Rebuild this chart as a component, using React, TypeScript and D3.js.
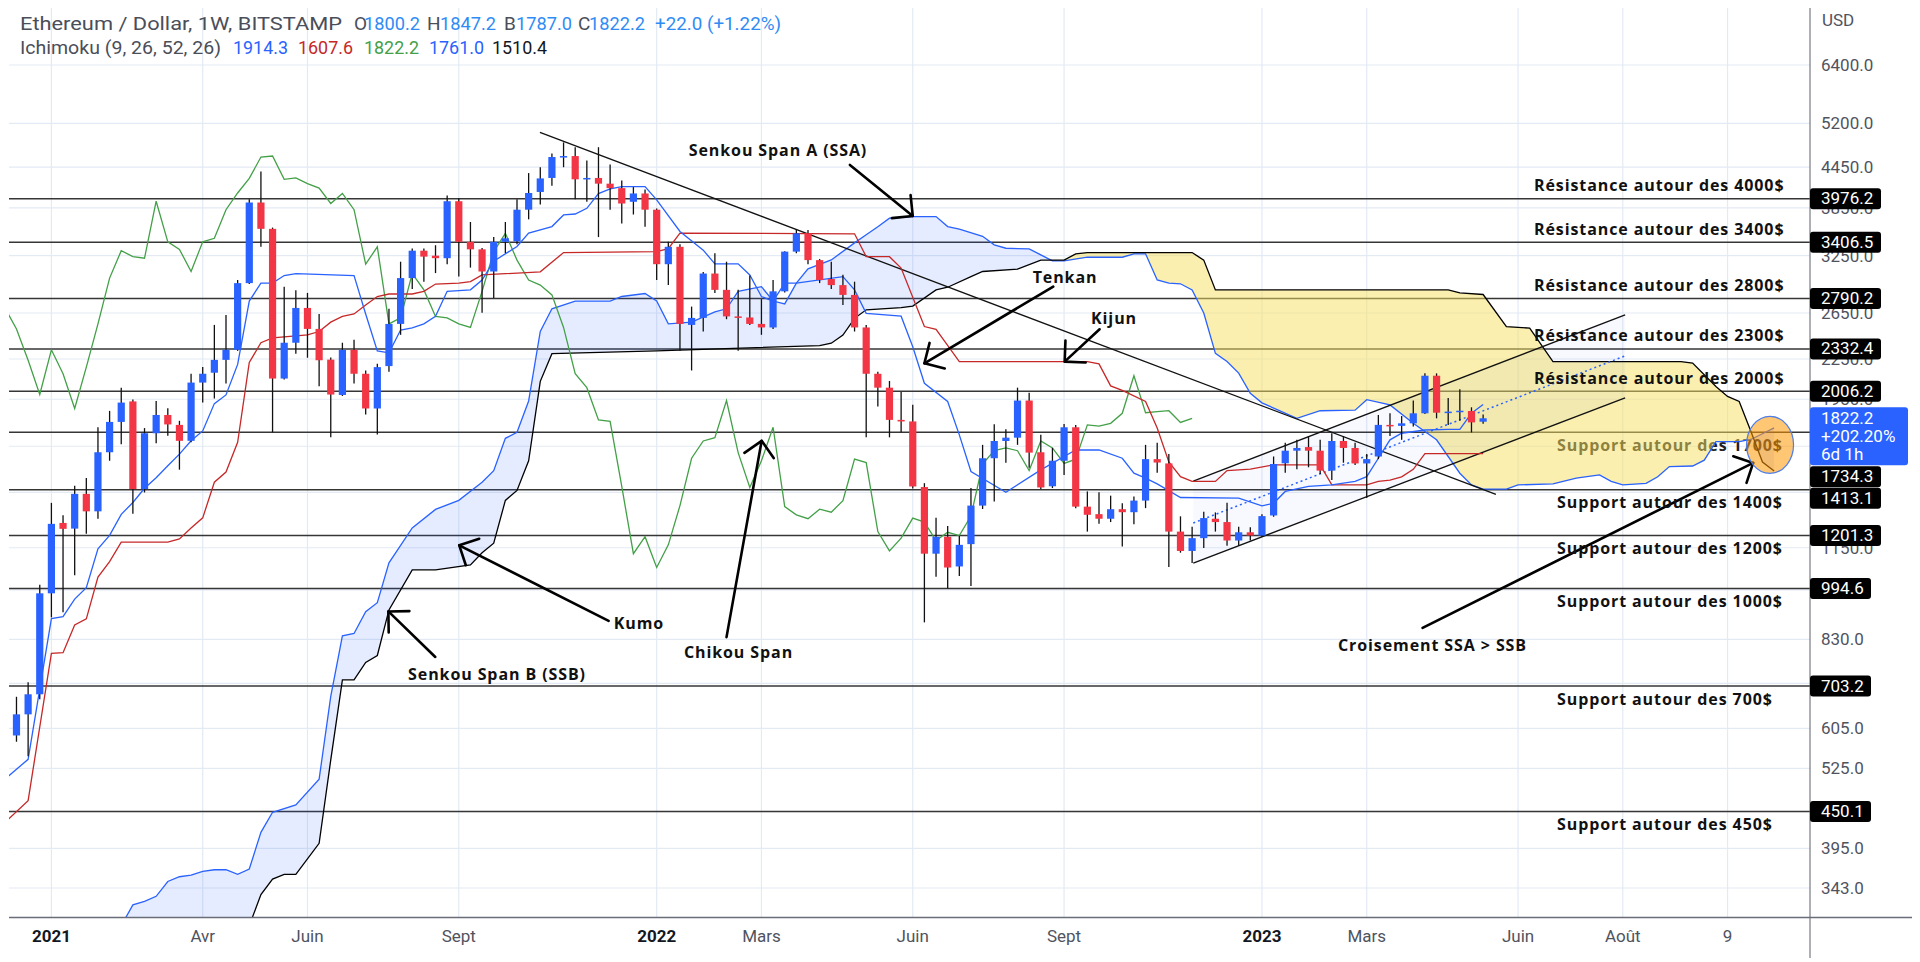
import React from "react";
import * as d3 from "d3";

const W = 1920;
const H = 962;

// ---- Weekly candles, index 0 = week of 2020-12-07, last = week of 2023-05-15 ----
const opens = [600,590,636,683,978,1256,1231,1393,1309,1615,
1799,1935,1417,1728,1844,1780,1682,2069,2143,2243,
2325,2947,3925,3574,2099,2384,2698,2504,2245,1980,
2325,2135,1887,2194,2549,3000,3307,3249,3220,3943,
3413,3323,3071,3413,3419,3826,4075,4283,4614,4630,
4262,4283,4197,4131,3935,4053,3826,3152,3353,2540,
2604,3049,2877,2618,2608,2549,2517,2862,3296,3518,
3198,2990,2926,2826,2517,2135,2032,1812,1802,1427,
1126,1196,1076,1165,1336,1581,1681,1701,1941,1615,
1431,1567,1765,1331,1296,1275,1319,1305,1360,1576,
1552,1218,1137,1190,1275,1260,1180,1215,1201,1290,
1553,1624,1645,1624,1513,1681,1640,1552,1591,1780,
1774,1790,1855,2120,1859,1866,1870,1800.2];
const highs = [610,677,713,1008,1349,1291,1434,1474,1765,1871,
2032,1949,1760,1938,1889,1806,2135,2186,2540,2632,
2980,3970,4381,3590,2910,2873,2846,2641,2262,2384,
2410,2160,2213,2690,3180,3334,3334,3372,4024,3984,
3662,3340,3471,3662,3970,4358,4450,4672,4860,4778,
4557,4778,4491,4244,4146,4110,3841,3413,3383,2711,
3065,3277,3180,2877,3027,2784,2980,3300,3570,3558,
3210,3180,3037,2962,2540,2150,2081,2000,1913,1447,
1279,1243,1200,1422,1658,1784,1753,2032,1996,1718,
1640,1786,1780,1405,1401,1384,1347,1380,1658,1671,
1605,1286,1239,1307,1304,1350,1239,1237,1295,1591,
1671,1688,1708,1688,1728,1711,1671,1605,1844,1855,
1837,1941,2138,2138,1958,2021,1895,1847.2];
const lows = [575,577,548,671,898,914,1043,1209,1275,1567,
1661,1298,1400,1668,1713,1518,1673,1927,1955,2062,
2316,2937,3353,1734,2092,2293,2260,2043,1703,1973,
2062,1847,1721,2151,2452,2885,2962,3054,3152,3016,
3114,2651,2795,3279,3383,3697,3897,4166,4450,3970,
3935,3471,3826,3642,3761,3600,2980,2926,2316,2160,
2481,2846,2592,2316,2540,2452,2504,2850,3277,3152,
2947,2885,2727,2481,1703,1901,1703,1734,1420,882,
1037,996,1040,1004,1320,1355,1556,1658,1528,1417,
1422,1490,1324,1218,1253,1260,1155,1250,1324,1502,
1074,1130,1089,1149,1218,1158,1158,1180,1195,1284,
1502,1520,1531,1495,1463,1556,1544,1372,1576,1711,
1688,1770,1851,1822,1780,1807,1733,1787.0];
const closes = [588,636,683,978,1252,1230,1393,1309,1615,1799,
1927,1417,1728,1844,1783,1682,2069,2135,2243,2325,
2947,3925,3574,2099,2384,2698,2504,2240,1983,2325,
2135,1887,2186,2549,3000,3307,3238,3220,3943,3413,
3323,3071,3413,3456,3826,4060,4276,4614,4630,4262,
4283,4197,4131,3911,4053,3826,3152,3353,2549,2604,
3049,2877,2618,2604,2549,2517,2862,3296,3518,3198,
2980,2926,2826,2517,2135,2032,1812,1802,1430,1126,
1196,1072,1162,1336,1581,1681,1701,1941,1613,1425,
1567,1765,1331,1293,1275,1319,1305,1360,1576,1557,
1218,1137,1190,1278,1260,1180,1215,1201,1287,1549,
1624,1640,1624,1513,1681,1640,1552,1576,1780,1772,
1790,1855,2120,1859,1866,1872,1796,1822.2];

// ---- Ichimoku lines: [week index, price] ----
const tenkan: [number, number][] = [[0,505],[2,542],[4,894],[5,900],[6,958],[7,998],[8,1146],[9,1202],[10,1295],[11,1351],[12,1421],[13,1475],[14,1539],[15,1604],[16,1682],[17,1742],[18,1920],[19,1980],[20,2207],[21,2765],[22,2947],[23,2947],[24,3027],[25,3049],[30,3027],[31,2641],[32,2316],[33,2300],[34,2494],[35,2513],[36,2549],[37,2618],[38,2862],[40,2877],[41,2980],[42,3186],[44,3357],[45,3520],[47,3603],[48,3755],[49,3768],[50,3845],[51,4052],[52,4121],[53,4154],[55,4154],[56,3961],[58,3541],[60,3313],[61,3156],[63,3156],[64,3034],[65,2809],[66,2764],[67,2947],[68,2947],[72,3016],[73,2877],[74,2647],[77,2620],[78,2350],[79,2064],[81,1935],[82,1718],[83,1508],[86,1401],[89,1517],[91,1591],[92,1628],[94,1628],[96,1581],[97,1499],[98,1473],[99,1443],[101,1375],[106,1372],[108,1335],[109,1347],[110,1405],[112,1430],[114,1438],[116,1456],[117,1481],[118,1581],[119,1688],[120,1728],[122,1748],[124,1752],[125,1752],[126,1855],[127,1914.3]];
const kijun: [number, number][] = [[0,433],[2,468],[4,790],[5,792],[6,874],[7,893],[8,1036],[9,1095],[10,1173],[14,1173],[15,1187],[16,1234],[17,1279],[18,1452],[19,1505],[20,1673],[21,2222],[22,2384],[23,2425],[26,2452],[27,2481],[28,2565],[29,2618],[30,2641],[31,2727],[32,2810],[33,2835],[35,2835],[36,2862],[37,2937],[39,2947],[40,2962],[41,3034],[46,3068],[48,3285],[56,3296],[57,3330],[58,3520],[73,3512],[74,3237],[76,3237],[77,3109],[79,2525],[80,2500],[82,2229],[93,2229],[94,2211],[95,2045],[96,2013],[98,1935],[99,1760],[100,1560],[101,1481],[102,1456],[104,1456],[105,1513],[107,1521],[109,1544],[113,1544],[114,1438],[117,1438],[118,1456],[119,1463],[120,1480],[121,1520],[122,1607],[127,1607.6]];
const senkouA: [number, number][] = [[10,300],[11,323],[12,327],[13,333],[14,351],[15,357],[16,359],[17,364],[18,366],[19,366],[20,360],[21,367],[22,418],[23,449],[25,461],[27,505],[28,678],[29,841],[30,848],[31,916],[32,946],[33,1090],[35,1234],[37,1318],[39,1361],[41,1452],[42,1513],[43,1697],[44,1734],[45,1938],[46,2481],[47,2690],[49,2765],[52,2765],[53,2810],[55,2840],[56,2765],[57,2550],[59,2565],[61,2661],[62,2690],[63,2862],[65,2910],[66,2765],[67,2737],[68,2947],[69,3100],[71,3200],[73,3400],[74,3500],[75,3600],[76,3712],[78,3734],[80,3734],[81,3603],[82,3570],[84,3480],[85,3376],[86,3336],[88,3328],[89,3258],[90,3190],[91,3190],[93,3231],[96,3231],[97,3270],[98,3270],[99,2980],[100,2947],[101,2940],[102,2877],[103,2650],[104,2296],[105,2230],[106,2140],[107,1992],[108,1925],[111,1822],[113,1872],[116,1876],[117,1947],[119,1911],[121,1790],[123,1688],[125,1499],[126,1438],[127,1417],[129,1417],[130,1438],[133,1443],[135,1473],[137,1490],[138,1456],[139,1438],[141,1446],[142,1480],[143,1535],[145,1538],[146,1570],[147,1677],[149,1677],[150,1690],[151,1725],[152,1761.0]];
const senkouB: [number, number][] = [[21,300],[22,335],[23,354],[24,360],[25,360],[27,402],[28,541],[29,719],[30,719],[31,765],[32,784],[33,922],[35,1063],[37,1063],[40,1082],[41,1130],[42,1169],[43,1361],[44,1410],[45,1567],[46,2078],[47,2293],[56,2316],[70,2360],[71,2380],[72,2450],[73,2600],[74,2680],[77,2700],[78,2716],[80,2877],[81,2904],[83,3016],[84,3071],[87,3097],[89,3198],[91,3198],[92,3270],[93,3285],[102,3285],[103,3198],[104,2877],[124,2877],[125,2846],[127,2830],[129,2525],[131,2511],[133,2229],[144,2229],[145,2217],[147,2040],[148,1970],[149,1935],[150,1740],[151,1560],[152,1510.4]];
const chikouShift = 25;

// ---- Horizontal levels ----
const levels = [3976.2, 3406.5, 2790.2, 2332.4, 2006.2, 1734.3, 1413.1, 1201.3, 994.6, 703.2, 450.1];
const levelTexts = ["Résistance autour des 4000$","Résistance autour des 3400$","Résistance autour des 2800$","Résistance autour des 2300$","Résistance autour des 2000$","Support autour des 1700$","Support autour des 1400$","Support autour des 1200$","Support autour des 1000$","Support autour des 700$","Support autour des 450$"];

// ---- Axes ----
const gridTicks = [6400, 5200, 4450, 3850, 3250, 2650, 2250, 1950, 1650, 1400, 1150, 990, 830, 710, 605, 525, 450, 395, 343];
const yTickLabels = [6400, 5200, 4450, 3850, 3250, 2650, 2250, 1950, 1150, 830, 605, 525, 395, 343];
const xTickLabels = ["2021","Avr","Juin","Sept","2022","Mars","Juin","Sept","2023","Mars","Juin","Août","9"];
const xTickWeeks = [4,17,26,39,56,65,78,91,108,117,130,139,148];
const yearLabels = ["2021","2022","2023"];

// ---- Drawings ----
const trendFrom: [number, number][] = [[45.97,5036],[102.1,1458],[102.1,1089]];
const trendTo: [number, number][] = [[128.1,1390],[139.2,2632],[139.2,1960]];
const midFrom: [number, number] = [102.1,1256];
const midTo: [number, number] = [139.2,2275];
const arrowFrom: [number, number][] = [[72.6,4486],[90.07,2910],[94.05,2501],[51.87,887],[36.98,780],[62.0,837],[121.8,865]];
const arrowTo: [number, number][] = [[78.0,3742],[79.0,2216],[91.05,2229],[39.04,1160],[32.95,917],[65.02,1682],[150.2,1555]];
const noteTexts = ["Senkou Span A (SSA)","Tenkan","Kijun","Kumo","Chikou Span","Senkou Span B (SSB)","Croisement SSA > SSB"];
const noteAt: [number, number][] = [[66.42,4719],[91.08,3005],[95.29,2595],[54.47,879],[63.03,793],[42.28,734],[122.65,813]];
const circleAt: [number, number] = [151.65,1658];

// ---- Legend ----
const lastPrice = 1822.2;
const lastChange = "+202.20%";
const countdown = "6d 1h";
const legendTitle = "Ethereum / Dollar, 1W, BITSTAMP";
const legendKeys = ["O","H","B","C"];
const legendVals = ["1800.2","1847.2","1787.0","1822.2"];
const legendChange = "+22.0 (+1.22%)";
const ichimokuTitle = "Ichimoku (9, 26, 52, 26)";
const ichimokuValues = ["1914.3","1607.6","1822.2","1761.0","1510.4"];

const PL = 9, PR = 1810, PT = 8, PB = 917;
const UP = "#2962ff", DOWN = "#f23645";
const AX_FONT = "Roboto, 'Liberation Sans', Arial, sans-serif";
const NOTE_FONT = "'Open Sans', 'DejaVu Sans', sans-serif";

export default function App() {
  const x = d3.scaleLinear().domain([0, 127]).range([4.84, 4.84 + 11.64 * 127]);
  const y = d3.scaleLog().domain([343, 6400]).range([888, 65]);
  const line = d3.line<[number, number]>().x((d) => x(d[0])).y((d) => y(d[1]));

  const pt = (d: [number, number]) => [x(d[0]), y(d[1])] as [number, number];
  const poly = (pts: [number, number][]) => "M" + pts.map((p) => p[0].toFixed(2) + "," + p[1].toFixed(2)).join("L") + "Z";

  const aPts = senkouA.map(pt);
  const bPts = senkouB.map(pt);
  const cloudPoly = poly([...aPts, ...bPts.slice().reverse()]);
  const bFirst = bPts[0], bLast = bPts[bPts.length - 1];
  const aboveB = poly([[-200, -200], [-200, bFirst[1]], ...bPts, [2200, bLast[1]], [2200, -200]]);
  const belowB = poly([[-200, 2000], [-200, bFirst[1]], ...bPts, [2200, bLast[1]], [2200, 2000]]);

  const chikou: [number, number][] = closes.map((c, i) => [i - chikouShift, c]);
  const channelPoly = poly([pt(trendFrom[1]), pt(trendTo[1]), pt(trendTo[2]), pt(trendFrom[2])]);

  // right price labels with collision
  const blueTop = y(lastPrice) - 11;
  const blueBottom = blueTop + 58;
  const boxes = levels.map((p) => ({ p, cy: y(p) })).sort((a, b) => a.cy - b.cy);
  let prevBottom = -1e9;
  const placed = boxes.map((b) => {
    let top = b.cy - 10.5;
    if (top < prevBottom + 0.5) top = prevBottom + 0.5;
    if (top < blueBottom && top + 21 > blueTop) top = blueBottom + 1;
    prevBottom = top + 21;
    return { ...b, top };
  });

  // legend layout (x positions and widths, px)
  const legendKeyX = [354, 427, 504, 578];
  const legendValX = [364, 440, 516, 589];
  const ichiX = [233, 298, 364, 429, 492];
  const ichiColors = ["#2962ff", "#c62828", "#43a047", "#2962ff", "#131722"];

  const arrowHead = (f: [number, number], t: [number, number]) => {
    const [fx, fy] = pt(f);
    const [tx, ty] = pt(t);
    const ang = Math.atan2(fy - ty, fx - tx);
    const L = 21;
    const a1 = ang + Math.PI / 4, a2 = ang - Math.PI / 4;
    return `M${tx + L * Math.cos(a1)},${ty + L * Math.sin(a1)}L${tx},${ty}L${tx + L * Math.cos(a2)},${ty + L * Math.sin(a2)}`;
  };

  return (
    <div style={{ width: W, height: H, overflow: "hidden", background: "#fff" }}>
      <style>{`html,body{margin:0;padding:0;overflow:hidden;background:#fff}`}</style>
      <svg width={W} height={H} viewBox={`0 0 ${W} ${H}`} style={{ display: "block" }}>
        <defs>
          <clipPath id="plot"><rect x={PL} y={PT} width={PR - PL} height={PB - PT} /></clipPath>
          <clipPath id="aboveB"><path d={aboveB} /></clipPath>
          <clipPath id="belowB"><path d={belowB} /></clipPath>
        </defs>
        <rect x={0} y={0} width={W} height={H} fill="#fff" />

        {/* grid */}
        <g stroke="#e3eaf4" strokeWidth={1.2}>
          {gridTicks.map((t) => (
            <line key={"gy" + t} x1={PL} x2={PR} y1={y(t)} y2={y(t)} />
          ))}
          {xTickWeeks.map((k, i) => (
            <line key={"gx" + i} x1={x(k)} x2={x(k)} y1={PT} y2={PB} />
          ))}
        </g>

        <g clipPath="url(#plot)">
          {levels.map((p) => (
            <line key={"lv" + p} x1={PL} x2={PR} y1={y(p)} y2={y(p)} stroke="#363636" strokeWidth={1.5} />
          ))}
          <text x={1557} y={y(levels[5]) + 13} dy="0.35em" fontFamily={NOTE_FONT} fontWeight={700} fontSize={16} letterSpacing={0.9} fill="#222">
            {levelTexts[5]}
          </text>

          {/* cloud */}
          <path d={cloudPoly} fill="#2962ff" fillOpacity={0.12} clipPath="url(#aboveB)" />
          <path d={cloudPoly} fill="#f5df5e" fillOpacity={0.5} clipPath="url(#belowB)" />
          <path d={line(senkouA) || ""} fill="none" stroke="#2962ff" strokeWidth={1.3} />
          <path d={line(senkouB) || ""} fill="none" stroke="#000" strokeWidth={1.3} />

          {/* channel */}
          <path d={channelPoly} fill="#2962ff" fillOpacity={0.035} />
          {trendFrom.map((f, i) => (
            <line key={"tr" + i} x1={x(f[0])} y1={y(f[1])} x2={x(trendTo[i][0])} y2={y(trendTo[i][1])} stroke="#111" strokeWidth={1.3} />
          ))}
          <line x1={x(midFrom[0])} y1={y(midFrom[1])} x2={x(midTo[0])} y2={y(midTo[1])} stroke="#2962ff" strokeWidth={1.5} strokeDasharray="2 3" />

          {/* ichimoku lines */}
          <path d={line(chikou) || ""} fill="none" stroke="#43a047" strokeWidth={1.3} />
          <path d={line(kijun) || ""} fill="none" stroke="#c62828" strokeWidth={1.3} />
          <path d={line(tenkan) || ""} fill="none" stroke="#2962ff" strokeWidth={1.3} />

          {/* candles */}
          {opens.map((o, i) => {
            const c = closes[i];
            const col = c >= o ? UP : DOWN;
            const cx = x(i);
            const top = y(Math.max(o, c));
            const bot = y(Math.min(o, c));
            return (
              <g key={"c" + i}>
                <line x1={cx} x2={cx} y1={y(highs[i])} y2={y(lows[i])} stroke="#111" strokeWidth={1.3} />
                <rect x={cx - 3.6} y={top} width={7.2} height={Math.max(1.5, bot - top)} fill={col} />
              </g>
            );
          })}

          {/* arrows */}
          {arrowFrom.map((f, i) => (
            <g key={"ar" + i} stroke="#000" strokeWidth={2.6} fill="none" strokeLinecap="round" strokeLinejoin="round">
              <line x1={x(f[0])} y1={y(f[1])} x2={x(arrowTo[i][0])} y2={y(arrowTo[i][1])} />
              <path d={arrowHead(f, arrowTo[i])} />
            </g>
          ))}

          {/* notes */}
          {noteTexts.map((t, i) => (
            <text key={"nt" + i} x={x(noteAt[i][0])} y={y(noteAt[i][1])} dy="0.35em" textAnchor="middle" fontFamily={NOTE_FONT} fontWeight={700} fontSize={16} letterSpacing={0.9} fill="#111">
              {t}
            </text>
          ))}
          {levels.map((p, i) =>
            i === 5 ? null : (
              <text key={"lt" + i} x={i < 5 ? 1534 : 1557} y={i < 5 ? y(p) - 13 : y(p) + 13} dy="0.35em" fontFamily={NOTE_FONT} fontWeight={700} fontSize={16} letterSpacing={0.9} fill="#111">
                {levelTexts[i]}
              </text>
            )
          )}

          <ellipse cx={x(circleAt[0])} cy={y(circleAt[1])} rx={23.5} ry={28.5} fill="#ff9800" fillOpacity={0.55} stroke="#4f7ee8" strokeWidth={1.2} />
        </g>

        {/* header legend */}
        <g fontFamily={AX_FONT} fontSize={19}>
          <text x={20} y={30} fill="#4a4e59" textLength={322} lengthAdjust="spacingAndGlyphs">{legendTitle}</text>
          {legendKeys.map((k, i) => (
            <g key={"lg" + i}>
              <text x={legendKeyX[i]} y={30} fill="#4a4e59">{k}</text>
              <text x={legendValX[i]} y={30} fill="#2f8cf5" textLength={56} lengthAdjust="spacingAndGlyphs">{legendVals[i]}</text>
            </g>
          ))}
          <text x={655} y={30} fill="#2f8cf5" textLength={126} lengthAdjust="spacingAndGlyphs">{legendChange}</text>
          <text x={20} y={53.5} fill="#4a4e59" textLength={201} lengthAdjust="spacingAndGlyphs">{ichimokuTitle}</text>
          {ichimokuValues.map((v, i) => (
            <text key={"iv" + i} x={ichiX[i]} y={53.5} fill={ichiColors[i]} textLength={55} lengthAdjust="spacingAndGlyphs">{v}</text>
          ))}
        </g>

        {/* axes frame */}
        <rect x={PR} y={0} width={W - PR} height={H} fill="#fff" />
        <rect x={0} y={PB + 1} width={PR} height={H - PB} fill="#fff" />
        <line x1={PR} x2={PR} y1={PT} y2={958} stroke="#5d606b" strokeWidth={1} />
        <line x1={PL} x2={1912} y1={PB + 0.5} y2={PB + 0.5} stroke="#6a6d78" strokeWidth={1.6} />

        {/* y ticks */}
        <g fontFamily={AX_FONT} fontSize={17} fill="#50535e">
          <text x={1822} y={25.5}>USD</text>
          {yTickLabels.map((t) => (
            <text key={"yt" + t} x={1821} y={y(t)} dy="0.35em">{t.toFixed(1)}</text>
          ))}
        </g>

        {/* level price labels */}
        <g fontFamily={AX_FONT} fontSize={17}>
          {placed.map((b) => {
            const label = b.p.toFixed(1);
            const w = label.length >= 6 ? 71 : 61;
            return (
              <g key={"pl" + b.p}>
                <rect x={PR} y={b.top} width={w} height={21} rx={3} fill="#000" />
                <text x={1821} y={b.top + 16} fill="#fff">{label}</text>
              </g>
            );
          })}
          <rect x={PR} y={blueTop} width={98} height={58} rx={3} fill="#2962ff" />
          <text x={1821} y={blueTop + 17} fill="#fff">{lastPrice.toFixed(1)}</text>
          <text x={1821} y={blueTop + 35} fill="#fff">{lastChange}</text>
          <text x={1821} y={blueTop + 53} fill="#fff">{countdown}</text>
        </g>

        {/* x ticks */}
        <g fontFamily={AX_FONT} fontSize={17}>
          {xTickLabels.map((l, i) => {
            const isYear = yearLabels.includes(l);
            return (
              <text key={"xt" + i} x={x(xTickWeeks[i])} y={941.5} textAnchor="middle" fill={isYear ? "#131722" : "#50535e"} fontWeight={isYear ? 700 : 400}>
                {l}
              </text>
            );
          })}
        </g>
      </svg>
    </div>
  );
}
